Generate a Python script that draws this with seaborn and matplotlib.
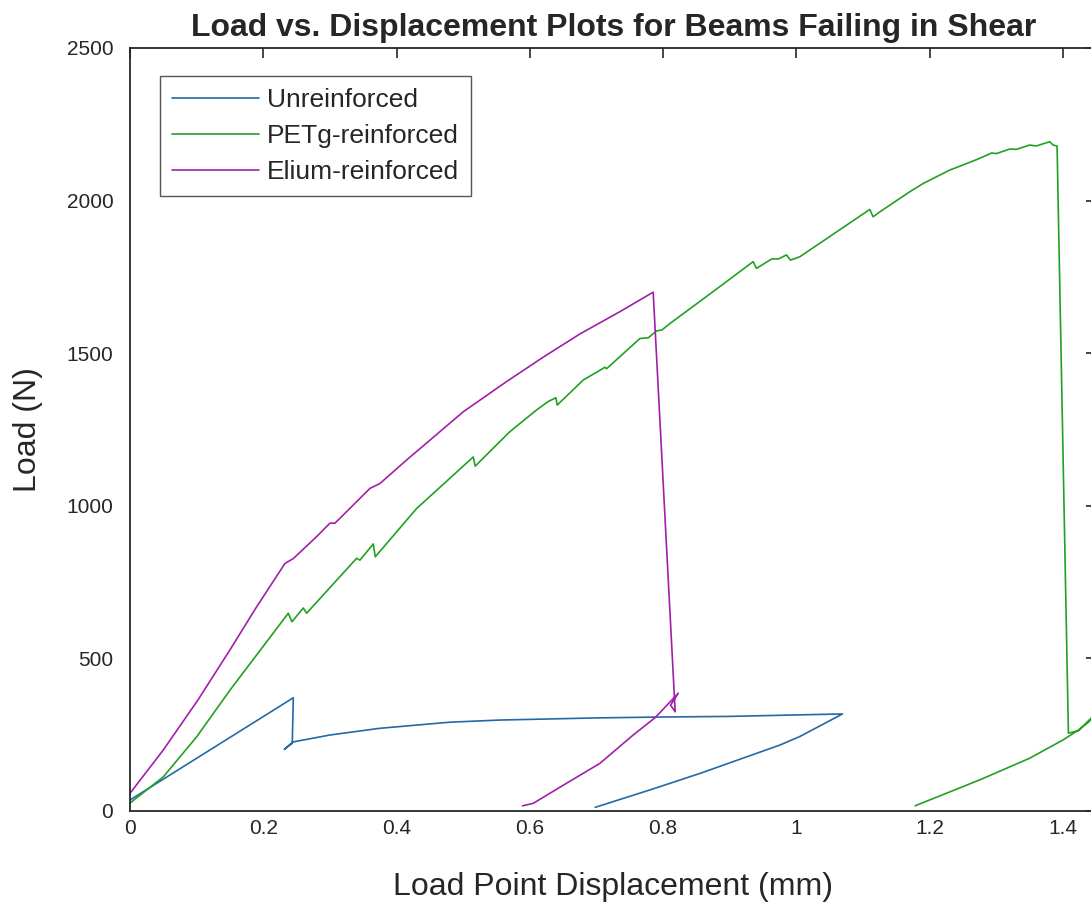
import numpy as np
import pandas as pd
import matplotlib
matplotlib.use("Agg")
import matplotlib.pyplot as plt
import seaborn as sns

# values (displacement in mm, load in N)
unrein_x = [0.0, 0.245, 0.2435, 0.2315, 0.244, 0.30, 0.375, 0.48, 0.555, 0.70, 0.80, 0.90,
            1.005, 1.069, 1.005, 0.975, 0.855, 0.78, 0.698]
unrein_y = [36, 371, 222, 202, 226, 249, 271, 291, 298, 305, 308, 310,
            315, 318, 244, 216, 123, 69, 12]

petg_x = [0.0, 0.05, 0.10, 0.15, 0.20, 0.2375, 0.243, 0.255, 0.26, 0.265, 0.340, 0.345,
          0.365, 0.368, 0.43, 0.515, 0.518, 0.57, 0.61, 0.627, 0.639, 0.641, 0.68,
          0.7127, 0.715, 0.765, 0.778, 0.790, 0.798, 0.810, 0.875, 0.935, 0.940, 0.963,
          0.973, 0.985, 0.991, 1.005, 1.110, 1.115, 1.125, 1.170, 1.19, 1.23, 1.27,
          1.293, 1.30, 1.32, 1.33, 1.35, 1.36, 1.38, 1.385, 1.391, 1.408, 1.423, 1.442,
          1.46, 1.455, 1.44, 1.425, 1.40, 1.35, 1.275, 1.178]
petg_y = [26, 112, 243, 396, 540, 648, 620, 652, 665, 648, 828, 822,
          875, 833, 991, 1160, 1130, 1243, 1314, 1341, 1354, 1330, 1412,
          1454, 1449, 1548, 1551, 1573, 1576, 1597, 1702, 1800, 1778, 1809,
          1809, 1822, 1805, 1816, 1971, 1947, 1963, 2029, 2056, 2100, 2134,
          2156, 2154, 2169, 2168, 2182, 2179, 2193, 2182, 2179, 255, 263, 304,
          345, 330, 295, 268, 233, 173, 102, 17]

elium_x = [0.0, 0.05, 0.102, 0.15, 0.19, 0.2325, 0.245, 0.28, 0.30, 0.3076, 0.36, 0.375,
           0.415, 0.50, 0.565, 0.62, 0.675, 0.735, 0.785, 0.818, 0.811, 0.8227, 0.788,
           0.755, 0.705, 0.655, 0.605, 0.589]
elium_y = [58, 200, 364, 528, 669, 811, 827, 899, 943, 943, 1057, 1073,
           1150, 1308, 1407, 1487, 1563, 1636, 1700, 325, 347, 386, 306,
           249, 156, 91, 25, 17]

names = ['Unreinforced', 'PETg-reinforced', 'Elium-reinforced']
colors = ['#2369a6', '#22a022', '#a21fab']

sns.set_theme(style="white")
plt.rcParams['font.family'] = ['Liberation Sans', 'DejaVu Sans']

fig = plt.figure(figsize=(10.91, 9.05), dpi=100)
ax = fig.add_axes([130 / 1091, 1 - 811 / 905, 966.4 / 1091, (811 - 48) / 905])

series = [(unrein_x, unrein_y), (petg_x, petg_y), (elium_x, elium_y)]
for (xs, ys), name, c in zip(series, names, colors):
    df = pd.DataFrame({'disp': xs, 'load': ys})
    sns.lineplot(data=df, x='disp', y='load', sort=False, estimator=None,
                 color=c, linewidth=1.2, label=name, ax=ax)

ax.set_xlim(0, 1.45)
ax.set_ylim(0, 2500)
ax.set_xticks([0, 0.2, 0.4, 0.6, 0.8, 1.0, 1.2, 1.4])
ax.set_xticklabels(['0', '0.2', '0.4', '0.6', '0.8', '1', '1.2', '1.4'])
ax.set_yticks([0, 500, 1000, 1500, 2000, 2500])

ax.tick_params(direction='in', top=True, right=True, length=7, width=1.2,
               labelsize=15, colors='#262626')
ax.tick_params(axis='x', pad=6)
ax.tick_params(axis='y', pad=12)
for sp in ax.spines.values():
    sp.set_color('#262626')
    sp.set_linewidth(1.3)

ax.set_xlabel('Load Point Displacement (mm)', fontsize=23, color='#262626', labelpad=24)
ax.set_ylabel('Load (N)', fontsize=23, color='#262626', labelpad=17)
ax.set_title('Load vs. Displacement Plots for Beams Failing in Shear',
             fontsize=23, fontweight='bold', pad=9)

leg = ax.legend(loc='upper left', bbox_to_anchor=(0.031, 0.963), fontsize=19,
                handlelength=3.3, handletextpad=0.3, borderpad=0.45, labelspacing=0.46,
                fancybox=False, framealpha=1, edgecolor='#555555', borderaxespad=0)
leg.get_frame().set_linewidth(1.0)

fig.savefig('out.png', dpi=100)
